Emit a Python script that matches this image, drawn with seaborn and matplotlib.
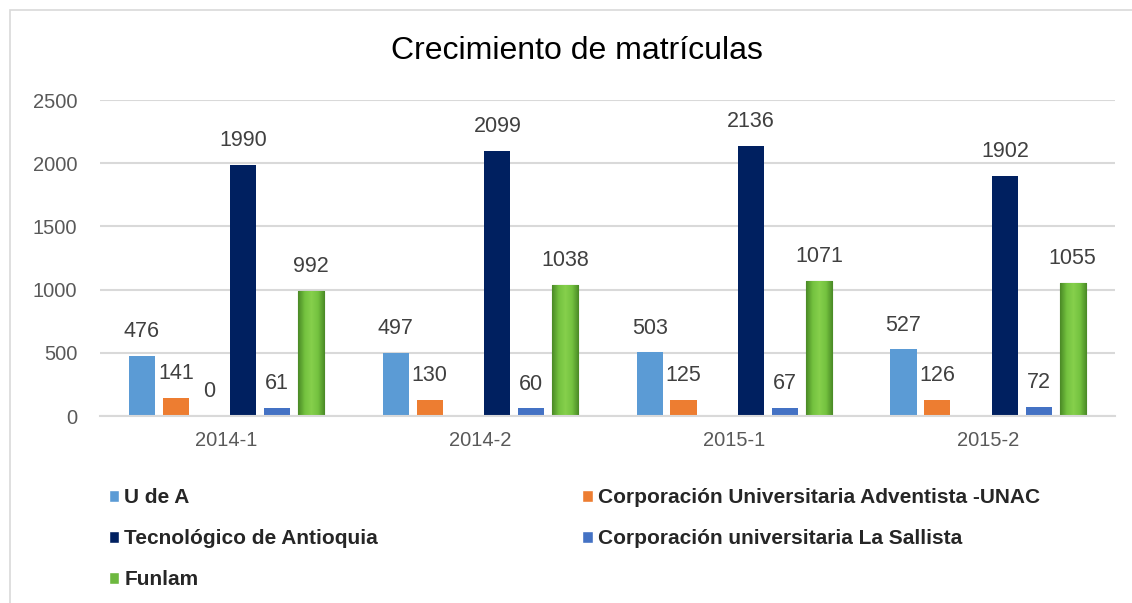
import numpy as np
import pandas as pd
import seaborn as sns
import matplotlib.pyplot as plt
from matplotlib.patches import Patch, Rectangle
from matplotlib.colors import LinearSegmentedColormap

# datos
periodos = ['2014-1', '2014-2', '2015-1', '2015-2']
u_de_a = [476, 497, 503, 527]
unac = [141, 130, 125, 126]
oculta = [0, np.nan, np.nan, np.nan]   # serie sin leyenda, solo muestra "0"
tecnologico = [1990, 2099, 2136, 1902]
sallista = [61, 60, 67, 72]
funlam = [992, 1038, 1071, 1055]

series = {
    'U de A': u_de_a,
    'Corporación Universitaria Adventista -UNAC': unac,
    'oculta': oculta,
    'Tecnológico de Antioquia': tecnologico,
    'Corporación universitaria La Sallista': sallista,
    'Funlam': funlam,
}
colores = {
    'U de A': '#5B9BD5',
    'Corporación Universitaria Adventista -UNAC': '#ED7D31',
    'oculta': '#FFFFFF',
    'Tecnológico de Antioquia': '#002060',
    'Corporación universitaria La Sallista': '#4472C4',
    'Funlam': '#6DB83F',
}

filas = []
for nombre, vals in series.items():
    for p, v in zip(periodos, vals):
        filas.append({'periodo': p, 'serie': nombre, 'valor': v})
df = pd.DataFrame(filas)

sns.set_style('white')
plt.rcParams['font.family'] = ['Liberation Sans', 'DejaVu Sans']

fig = plt.figure(figsize=(11.32, 6.03), dpi=100)
ax = fig.add_axes([0.088, 0.31, 0.897, 0.524])

orden = list(series.keys())
sns.barplot(data=df, x='periodo', y='valor', hue='serie', hue_order=orden,
            order=periodos, palette=colores, width=0.8, gap=0.23,
            saturation=1, errorbar=None, legend=False, ax=ax, linewidth=0)

# etiquetas de datos
for nombre, cont in zip(orden, ax.containers):
    vals = [v for v in series[nombre] if not np.isnan(v)]
    ax.bar_label(cont, labels=[f'{int(v)}' for v in vals], padding=10,
                 fontsize=15.5, color='#404040')
    if nombre == 'oculta':
        for b in cont:
            b.set_visible(False)

# degradado verde para Funlam
cmap = LinearSegmentedColormap.from_list('verde', ['#4A8A26', '#74C23F', '#86D04C', '#74C23F', '#4A8A26'])
grad = np.linspace(0, 1, 64).reshape(1, -1)
for b in ax.containers[orden.index('Funlam')]:
    x0, y0 = b.get_x(), b.get_y()
    w, h = b.get_width(), b.get_height()
    im = ax.imshow(grad, cmap=cmap, aspect='auto', extent=(x0, x0 + w, y0, y0 + h),
                   zorder=b.get_zorder() + 0.1)
    im.set_clip_path(b)
    b.set_edgecolor('#3F7A20')
    b.set_linewidth(0.8)

ax.set_xlim(-0.5, 3.5)
ax.set_ylim(0, 2500)
ax.set_yticks(range(0, 2501, 500))
ax.set_xlabel('')
ax.set_ylabel('')
ax.grid(axis='y', color='#D9D9D9', linewidth=1.5)
ax.set_axisbelow(True)
for s in ['top', 'right', 'left']:
    ax.spines[s].set_visible(False)
ax.spines['bottom'].set_color('#D9D9D9')
ax.spines['bottom'].set_linewidth(1.5)
ax.tick_params(axis='both', length=0, labelsize=14.5, labelcolor='#595959')
ax.tick_params(axis='y', pad=16)
ax.tick_params(axis='x', pad=11)

fig.text(0.51, 0.915, 'Crecimiento de matrículas', ha='center', va='center',
         fontsize=23, color='#000000')

# leyenda (sin la serie oculta), ordenada por filas
nombres_ley = ['U de A', 'Tecnológico de Antioquia', 'Funlam',
               'Corporación Universitaria Adventista -UNAC',
               'Corporación universitaria La Sallista']
handles = [Patch(facecolor=colores[n]) for n in nombres_ley]
fig.legend(handles, nombres_ley, ncol=2, loc='upper left',
           bbox_to_anchor=(0.096, 0.19), frameon=False,
           prop={'weight': 'bold', 'size': 15}, handlelength=0.5,
           handleheight=0.5, handletextpad=0.25, labelspacing=1.05,
           columnspacing=9.8, borderaxespad=0, borderpad=0)

# marco del gráfico
fig.add_artist(Rectangle((0.009, -0.05), 1.1, 1.033, transform=fig.transFigure,
                         fill=False, edgecolor='#D9D9D9', linewidth=1.2))

fig.savefig('out.png', dpi=100)
